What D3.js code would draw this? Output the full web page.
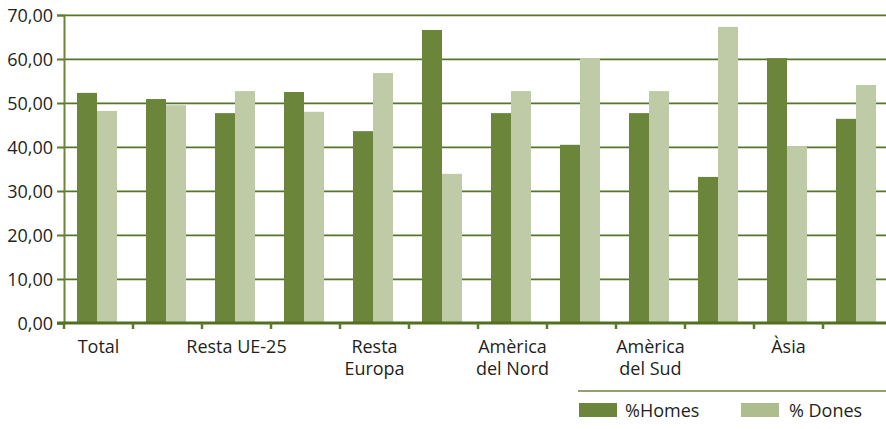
<!DOCTYPE html>
<html><head><meta charset="utf-8">
<script src="https://cdn.jsdelivr.net/npm/d3@7"></script>
<style>
html,body{margin:0;padding:0;background:#fff;}
text{font-family:"Open Sans",sans-serif;fill:#231f20;}
</style></head>
<body>
<svg id="c" width="886" height="429"></svg>
<script>
const categories = ["Total", "", "Resta UE-25", "", "Resta|Europa", "", "Amèrica|del Nord", "", "Amèrica|del Sud", "", "Àsia", ""];
const homes = [52.3, 50.9, 47.7, 52.5, 43.6, 66.6, 47.7, 40.5, 47.7, 33.2, 60.2, 46.4];
const dones = [48.2, 49.5, 52.7, 48.0, 56.8, 33.9, 52.7, 60.2, 52.7, 67.3, 40.2, 54.1];
const seriesNames = ["%Homes", "% Dones"];
const yTicks = [0, 10, 20, 30, 40, 50, 60, 70];

const svg = d3.select("#c");
const pL = 64, pR = 892, pT = 15, pB = 323;
const idx = categories.map((d, i) => i);
const x = d3.scaleBand().domain(idx).range([pL - 1.5, pR - 1.5]).paddingInner(0.42).paddingOuter(0.21);
const xb = d3.scaleBand().domain(idx).range([pL, pR]).padding(0);
const xs = d3.scaleBand().domain([0, 1]).range([0, x.bandwidth()]);
const y = d3.scaleLinear().domain([0, 70]).range([pB, pT]);
const cHomes = "#6b853a", cDones = "#bfcaa6", cDonesLeg = "#adbd8e";
const fmt = v => d3.format(".2f")(v).replace(".", ",");
const fs = "18px";

// gridlines
svg.append("g").selectAll("line").data(yTicks.filter(d => d > 0)).join("line")
  .attr("x1", pL).attr("x2", 886).attr("y1", d => y(d) - 0.5).attr("y2", d => y(d) - 0.5)
  .attr("stroke", "#a9bb8c").attr("stroke-width", 1);
svg.append("g").selectAll("line").data(yTicks.filter(d => d > 0)).join("line")
  .attr("x1", pL).attr("x2", 886).attr("y1", d => y(d) + 0.6).attr("y2", d => y(d) + 0.6)
  .attr("stroke", "#56742a").attr("stroke-width", 1.3);

// bars
const groups = svg.append("g").selectAll("g").data(idx).join("g")
  .attr("transform", i => `translate(${x(i)},0)`);
groups.append("rect").attr("x", xs(0)).attr("width", xs.bandwidth())
  .attr("y", i => y(homes[i])).attr("height", i => y(0) - y(homes[i])).attr("fill", cHomes);
groups.append("rect").attr("x", xs(1)).attr("width", xs.bandwidth())
  .attr("y", i => y(dones[i])).attr("height", i => y(0) - y(dones[i])).attr("fill", cDones);

// y axis
const ya = svg.append("g").attr("transform", `translate(${pL},0)`)
  .call(d3.axisLeft(y).tickValues(yTicks).tickFormat(fmt).tickSize(7).tickPadding(4));
ya.select(".domain").attr("stroke", "#6b853a").attr("stroke-width", 2);
ya.selectAll(".tick line").attr("stroke", "#5b7a2c").attr("stroke-width", 2);
ya.selectAll(".tick text").style("font-size", fs).attr("fill", "#231f20").attr("dy", "0.36em");

// x axis line and ticks
svg.append("line").attr("x1", pL - 7).attr("x2", 886).attr("y1", pB).attr("y2", pB)
  .attr("stroke", "#50701f").attr("stroke-width", 3);
const bounds = idx.map(i => xb(i));
svg.append("g").selectAll("line").data(bounds).join("line")
  .attr("x1", d => d).attr("x2", d => d).attr("y1", pB).attr("y2", pB + 6)
  .attr("stroke", "#5b7a2c").attr("stroke-width", 2.5);

// x labels
const lab = svg.append("g").selectAll("text").data(idx.filter(i => categories[i])).join("text")
  .attr("x", i => xb(i) + xb.bandwidth() / 2).attr("y", 353)
  .attr("text-anchor", "middle").style("font-size", fs);
lab.each(function(i) {
  const parts = categories[i].split("|");
  d3.select(this).selectAll("tspan").data(parts).join("tspan")
    .attr("x", xb(i) + xb.bandwidth() / 2).attr("dy", (d, k) => k ? 22 : 0).text(d => d);
});

// legend
svg.append("line").attr("x1", 578).attr("x2", 886).attr("y1", 391).attr("y2", 391)
  .attr("stroke", "#6b853a").attr("stroke-width", 1.5);
const legX = [579, 741];
const legC = [cHomes, cDonesLeg];
const leg = svg.append("g").selectAll("g").data(seriesNames).join("g")
  .attr("transform", (d, i) => `translate(${legX[i]},403)`);
leg.append("rect").attr("width", 38).attr("height", 14).attr("fill", (d, i) => legC[i]);
leg.append("text").attr("x", (d, i) => i ? 48 : 46).attr("y", 14).style("font-size", fs).text(d => d);
</script>
</body></html>
